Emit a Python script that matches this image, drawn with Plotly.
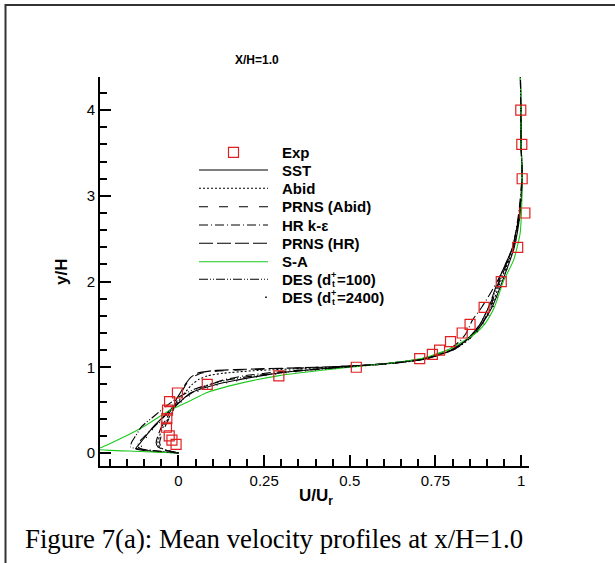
import plotly.graph_objects as go

# ---------------- data ----------------
exp_y = [0.10, 0.15, 0.20, 0.30, 0.40, 0.50, 0.60, 0.70, 0.80, 0.90, 1.00, 1.10, 1.15, 1.20,
         1.30, 1.40, 1.50, 1.70, 2.00, 2.40, 2.80, 3.20, 3.60, 4.00]
exp_u = [-0.007, -0.019, -0.027, -0.035, -0.034, -0.032, -0.026, -0.003, 0.084, 0.293, 0.519,
         0.704, 0.741, 0.762, 0.794, 0.828, 0.851, 0.892, 0.942, 0.990, 1.011, 1.003, 1.002, 0.999]

sst_y = [0, 0.02, 0.05, 0.1, 0.2, 0.3, 0.4, 0.5, 0.6, 0.7, 0.8, 0.85, 0.9, 0.95, 1.0, 1.05, 1.1,
         1.2, 1.3, 1.4, 1.5, 1.7, 2.0, 2.4, 2.8, 3.2, 3.6, 4.0, 4.4]
sst_u = [0, -0.08, -0.125, -0.115, -0.095, -0.075, -0.05, -0.025, 0.005, 0.035, 0.11, 0.17, 0.24,
         0.33, 0.47, 0.62, 0.725, 0.795, 0.835, 0.865, 0.885, 0.915, 0.945, 0.98, 0.997, 1.003,
         1.0, 0.999, 0.998]

abid_y = [0, 0.03, 0.07, 0.12, 0.2, 0.3, 0.4, 0.5, 0.6, 0.7, 0.8, 0.86, 0.9, 0.93, 0.96, 1.0,
          1.03, 1.07, 1.1, 1.15, 1.2, 1.3, 1.4, 1.5, 1.7, 2.0, 2.4, 2.8, 3.2, 3.6, 4.0, 4.4]
abid_u = [0, -0.035, -0.055, -0.06, -0.055, -0.045, -0.03, -0.015, 0.0, 0.018, 0.04, 0.06, 0.085,
          0.13, 0.22, 0.44, 0.58, 0.68, 0.72, 0.765, 0.8, 0.84, 0.865, 0.885, 0.912, 0.94, 0.978,
          0.996, 1.003, 1.0, 0.999, 0.998]

prns_abid_y = [0, 0.03, 0.07, 0.12, 0.2, 0.3, 0.4, 0.5, 0.6, 0.7, 0.8, 0.88, 0.93, 0.96, 0.98,
               1.0, 1.03, 1.07, 1.1, 1.15, 1.2, 1.3, 1.4, 1.5, 1.7, 2.0, 2.4, 2.8, 3.2, 3.6, 4.0, 4.4]
prns_abid_u = [0, -0.03, -0.05, -0.055, -0.05, -0.04, -0.028, -0.017, -0.005, 0.008, 0.022, 0.04,
               0.065, 0.13, 0.26, 0.42, 0.58, 0.68, 0.72, 0.765, 0.8, 0.84, 0.865, 0.885, 0.91,
               0.935, 0.977, 0.995, 1.002, 1.0, 0.999, 0.998]

hr_y = [0, 0.02, 0.05, 0.08, 0.15, 0.25, 0.35, 0.45, 0.55, 0.65, 0.75, 0.85, 0.9, 0.95, 1.0,
        1.05, 1.1, 1.2, 1.3, 1.4, 1.55, 1.7, 2.0, 2.4, 2.8, 3.2, 3.6, 4.0, 4.4]
hr_u = [0, -0.06, -0.11, -0.12, -0.11, -0.085, -0.06, -0.035, -0.008, 0.02, 0.06, 0.13, 0.19,
        0.3, 0.47, 0.62, 0.71, 0.785, 0.82, 0.84, 0.858, 0.885, 0.93, 0.975, 0.993, 1.002, 1.0,
        0.999, 0.998]

prns_hr_y = [0, 0.03, 0.07, 0.12, 0.2, 0.3, 0.4, 0.5, 0.6, 0.7, 0.8, 0.88, 0.93, 0.96, 0.98,
             1.0, 1.03, 1.07, 1.1, 1.15, 1.2, 1.3, 1.4, 1.5, 1.7, 2.0, 2.4, 2.8, 3.2, 3.6, 4.0, 4.4]
prns_hr_u = [0, -0.035, -0.06, -0.065, -0.06, -0.05, -0.035, -0.022, -0.01, 0.005, 0.02, 0.035,
             0.055, 0.1, 0.22, 0.40, 0.57, 0.67, 0.715, 0.76, 0.795, 0.835, 0.86, 0.88, 0.905,
             0.932, 0.975, 0.995, 1.003, 1.0, 0.999, 0.998]

sa_y = [0, 0.01, 0.02, 0.03, 0.045, 0.06, 0.1, 0.2, 0.3, 0.4, 0.5, 0.6, 0.7, 0.78, 0.9, 1.0,
        1.05, 1.1, 1.2, 1.3, 1.4, 1.5, 1.7, 2.0, 2.25, 2.56, 2.8, 3.2, 3.6, 4.0, 4.4]
sa_u = [0, -0.06, -0.13, -0.2, -0.25, -0.228, -0.205, -0.152, -0.105, -0.065, -0.025, 0.03, 0.08,
        0.146, 0.29, 0.5, 0.62, 0.705, 0.785, 0.83, 0.868, 0.893, 0.922, 0.948, 0.978, 0.997,
        1.001, 1.003, 1.0, 0.999, 0.998]

des100_y = [0, 0.02, 0.04, 0.07, 0.13, 0.2, 0.31, 0.44, 0.55, 0.65, 0.75, 0.85, 0.9, 0.95, 1.0,
            1.05, 1.1, 1.2, 1.3, 1.4, 1.5, 1.7, 2.0, 2.4, 2.8, 3.2, 3.6, 4.0, 4.4]
des100_u = [0, -0.05, -0.1, -0.14, -0.136, -0.125, -0.107, -0.068, -0.035, 0.0, 0.05, 0.14, 0.22,
            0.33, 0.48, 0.63, 0.72, 0.8, 0.835, 0.86, 0.88, 0.905, 0.937, 0.975, 0.995, 1.003,
            1.0, 0.999, 0.998]

des2400_y = sst_y
des2400_u = [0, -0.07, -0.11, -0.105, -0.09, -0.07, -0.045, -0.02, 0.01, 0.045, 0.12, 0.18, 0.25,
             0.35, 0.49, 0.63, 0.72, 0.8, 0.84, 0.87, 0.89, 0.918, 0.946, 0.98, 0.997, 1.003,
             1.0, 0.999, 0.998]

x_ticks = [0, 0.25, 0.5, 0.75, 1]
x_ticklabels = ["0", "0.25", "0.5", "0.75", "1"]
y_ticks = [0, 1, 2, 3, 4]
y_ticklabels = ["0", "1", "2", "3", "4"]

legend_names = ["Exp", "SST", "Abid", "PRNS (Abid)", "HR k-ε", "PRNS (HR)", "S-A",
                "DES (d", "DES (d"]

# ---------------- styles ----------------
ARIAL = "Arial, Liberation Sans, sans-serif"
TIMES = "Times New Roman, Liberation Serif, serif"
GREEN = "#1ec81e"
RED = "#e02020"

series = [
    ("SST", sst_u, sst_y, "black", "solid"),
    ("Abid", abid_u, abid_y, "black", "2px,2px"),
    ("PRNS (Abid)", prns_abid_u, prns_abid_y, "black", "9px,11px"),
    ("HR k-ε", hr_u, hr_y, "black", "9px,3px,1px,3px"),
    ("PRNS (HR)", prns_hr_u, prns_hr_y, "black", "14px,4px"),
    ("S-A", sa_u, sa_y, GREEN, "solid"),
    ("DES 100", des100_u, des100_y, "black", "9px,2px,1px,2px,1px,2px"),
    ("DES 2400", des2400_u, des2400_y, "black", "1px,9px"),
]

fig = go.Figure()
for name, u, y, col, dash in series:
    fig.add_trace(go.Scatter(x=u, y=y, mode="lines", name=name, showlegend=False,
                             line=dict(color=col, width=1.1, dash=dash, shape="spline",
                                       smoothing=0.6)))
fig.add_trace(go.Scatter(x=exp_u, y=exp_y, mode="markers", name="Exp", showlegend=False,
                         cliponaxis=False,
                         marker=dict(symbol="square-open", size=10, color=RED,
                                     line=dict(width=1.2, color=RED))))

W, H = 615, 563
L, R, T, B = 100, 86, 77, 97


def px_x(px):
    return (px - L) / (W - L - R)


def px_y(py):
    return (H - B - py) / (H - T - B)


shapes = []
annotations = []

# outer frame
shapes.append(dict(type="rect", xref="paper", yref="paper", x0=px_x(5.5), x1=px_x(625),
                   y0=px_y(575), y1=px_y(5), line=dict(color="#333333", width=2),
                   layer="below"))

# custom legend
rows = [152.3, 170, 188.3, 206.7, 225, 243.3, 261.7, 279.3, 297.3]
shapes.append(dict(type="rect", xref="paper", yref="paper", x0=px_x(228.5), x1=px_x(238.5),
                   y0=px_y(rows[0] + 5), y1=px_y(rows[0] - 5), line=dict(color=RED, width=1.2)))
for i, (name, u, y, col, dash) in enumerate(series[:7]):
    r = rows[i + 1]
    shapes.append(dict(type="line", xref="paper", yref="paper", x0=px_x(199), x1=px_x(268),
                       y0=px_y(r), y1=px_y(r), line=dict(color=col, width=1.1, dash=dash)))
shapes.append(dict(type="rect", xref="paper", yref="paper", x0=px_x(265.2), x1=px_x(266.8),
                   y0=px_y(rows[8] + 0.8), y1=px_y(rows[8] - 0.8), fillcolor="black",
                   line=dict(width=0)))

lf = dict(family=ARIAL, size=15, color="black")
for i, name in enumerate(legend_names):
    annotations.append(dict(xref="paper", yref="paper", x=px_x(279.5), y=px_y(rows[i]),
                            xanchor="left", yanchor="middle", showarrow=False,
                            text="<b>" + name + "</b>", font=lf))
for i, tail in [(7, "=100)"), (8, "=2400)")]:
    annotations.append(dict(xref="paper", yref="paper", x=px_x(329), y=px_y(rows[i] - 4.5),
                            xanchor="left", yanchor="middle", showarrow=False,
                            text="<b>+</b>", font=dict(family=ARIAL, size=9, color="black")))
    annotations.append(dict(xref="paper", yref="paper", x=px_x(329.5), y=px_y(rows[i] + 5),
                            xanchor="left", yanchor="middle", showarrow=False,
                            text="<b>t</b>", font=dict(family=ARIAL, size=9, color="black")))
    annotations.append(dict(xref="paper", yref="paper", x=px_x(334.5), y=px_y(rows[i]),
                            xanchor="left", yanchor="middle", showarrow=False,
                            text="<b>" + tail + "</b>", font=lf))

# titles
annotations.append(dict(xref="paper", yref="paper", x=px_x(257), y=px_y(60), xanchor="center",
                        yanchor="middle", showarrow=False, text="<b>X/H=1.0</b>",
                        font=dict(family=ARIAL, size=12, color="black")))
annotations.append(dict(xref="paper", yref="paper", x=px_x(316), y=px_y(497), xanchor="center",
                        yanchor="middle", showarrow=False, text="<b>U/U<sub>r</sub></b>",
                        font=dict(family=ARIAL, size=17, color="black")))
annotations.append(dict(xref="paper", yref="paper", x=px_x(61), y=px_y(272), xanchor="center",
                        yanchor="middle", showarrow=False, text="<b>y/H</b>", textangle=-90,
                        font=dict(family=ARIAL, size=17, color="black")))
annotations.append(dict(xref="paper", yref="paper", x=px_x(23), y=px_y(539), xanchor="left",
                        yanchor="middle", showarrow=False,
                        text="Figure 7(a): Mean velocity profiles at x/H=1.0",
                        font=dict(family=TIMES, size=26.8, color="black")))

axis_common = dict(showgrid=False, zeroline=False, showline=True, linecolor="black",
                   linewidth=2, ticks="inside", ticklen=11, tickwidth=2, tickcolor="black",
                   tickfont=dict(family=ARIAL, size=15, color="black"), mirror=False)

fig.update_layout(
    width=W, height=H, margin=dict(l=L, r=R, t=T, b=B),
    paper_bgcolor="white", plot_bgcolor="white", showlegend=False,
    xaxis=dict(range=[-0.229, 1.023], tickvals=x_ticks, ticktext=x_ticklabels,
               minor=dict(dtick=0.05, tick0=0, ticks="inside", ticklen=7, tickwidth=1.5,
                          tickcolor="black", showgrid=False),
               **axis_common),
    yaxis=dict(range=[-0.152, 4.387], tickvals=y_ticks, ticktext=y_ticklabels,
               minor=dict(dtick=0.2, tick0=0, ticks="inside", ticklen=7, tickwidth=1.5,
                          tickcolor="black", showgrid=False),
               **axis_common),
    shapes=shapes, annotations=annotations,
)

fig.write_html("out.html")
